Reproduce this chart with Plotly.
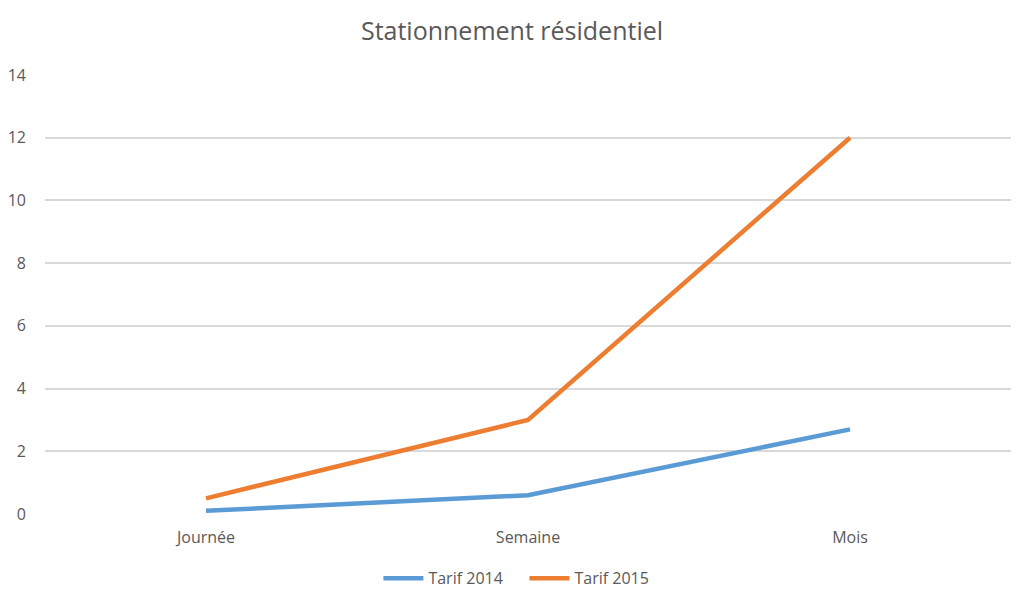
import plotly.graph_objects as go

categories = ["Journée", "Semaine", "Mois"]
tarif_2014 = [0.1, 0.6, 2.7]
tarif_2015 = [0.5, 3.0, 12.0]
y_ticks = [0, 2, 4, 6, 8, 10, 12, 14]

FONT = "Open Sans"
TEXT = "#595959"

fig = go.Figure()
fig.add_trace(go.Scatter(x=categories, y=tarif_2014, mode="lines", name="Tarif 2014    ",
                         line=dict(color="#5B9BD5", width=4.5)))
fig.add_trace(go.Scatter(x=categories, y=tarif_2015, mode="lines", name="Tarif 2015",
                         line=dict(color="#ED7D31", width=4.5)))

fig.update_layout(
    width=1024, height=598,
    paper_bgcolor="white", plot_bgcolor="white",
    margin=dict(l=45, r=13, t=75, b=84, autoexpand=False),
    title=dict(text="Stationnement résidentiel", x=0.5, xanchor="center", y=0.947, yanchor="middle",
               font=dict(family=FONT, size=25, color=TEXT)),
    font=dict(family=FONT, size=15, color=TEXT),
    showlegend=True,
    legend=dict(orientation="h", x=0.488, xanchor="center", y=0.033, yanchor="middle",
                yref="container",
                font=dict(family=FONT, size=16, color=TEXT), itemwidth=40),
)
fig.update_xaxes(type="category", range=[-0.5, 2.5], showgrid=False, showline=False,
                 zeroline=False, ticks="", ticklabelstandoff=12, automargin=False,
                 tickfont=dict(family=FONT, size=16, color=TEXT))
fig.update_yaxes(range=[0, 14], tickvals=y_ticks, showgrid=True, gridcolor="#D9D9D9",
                 gridwidth=1.5, zeroline=False, showline=False, ticks="", ticklabelstandoff=18,
                 automargin=False,
                 tickfont=dict(family=FONT, size=16, color=TEXT))

fig.write_html("out.html")
